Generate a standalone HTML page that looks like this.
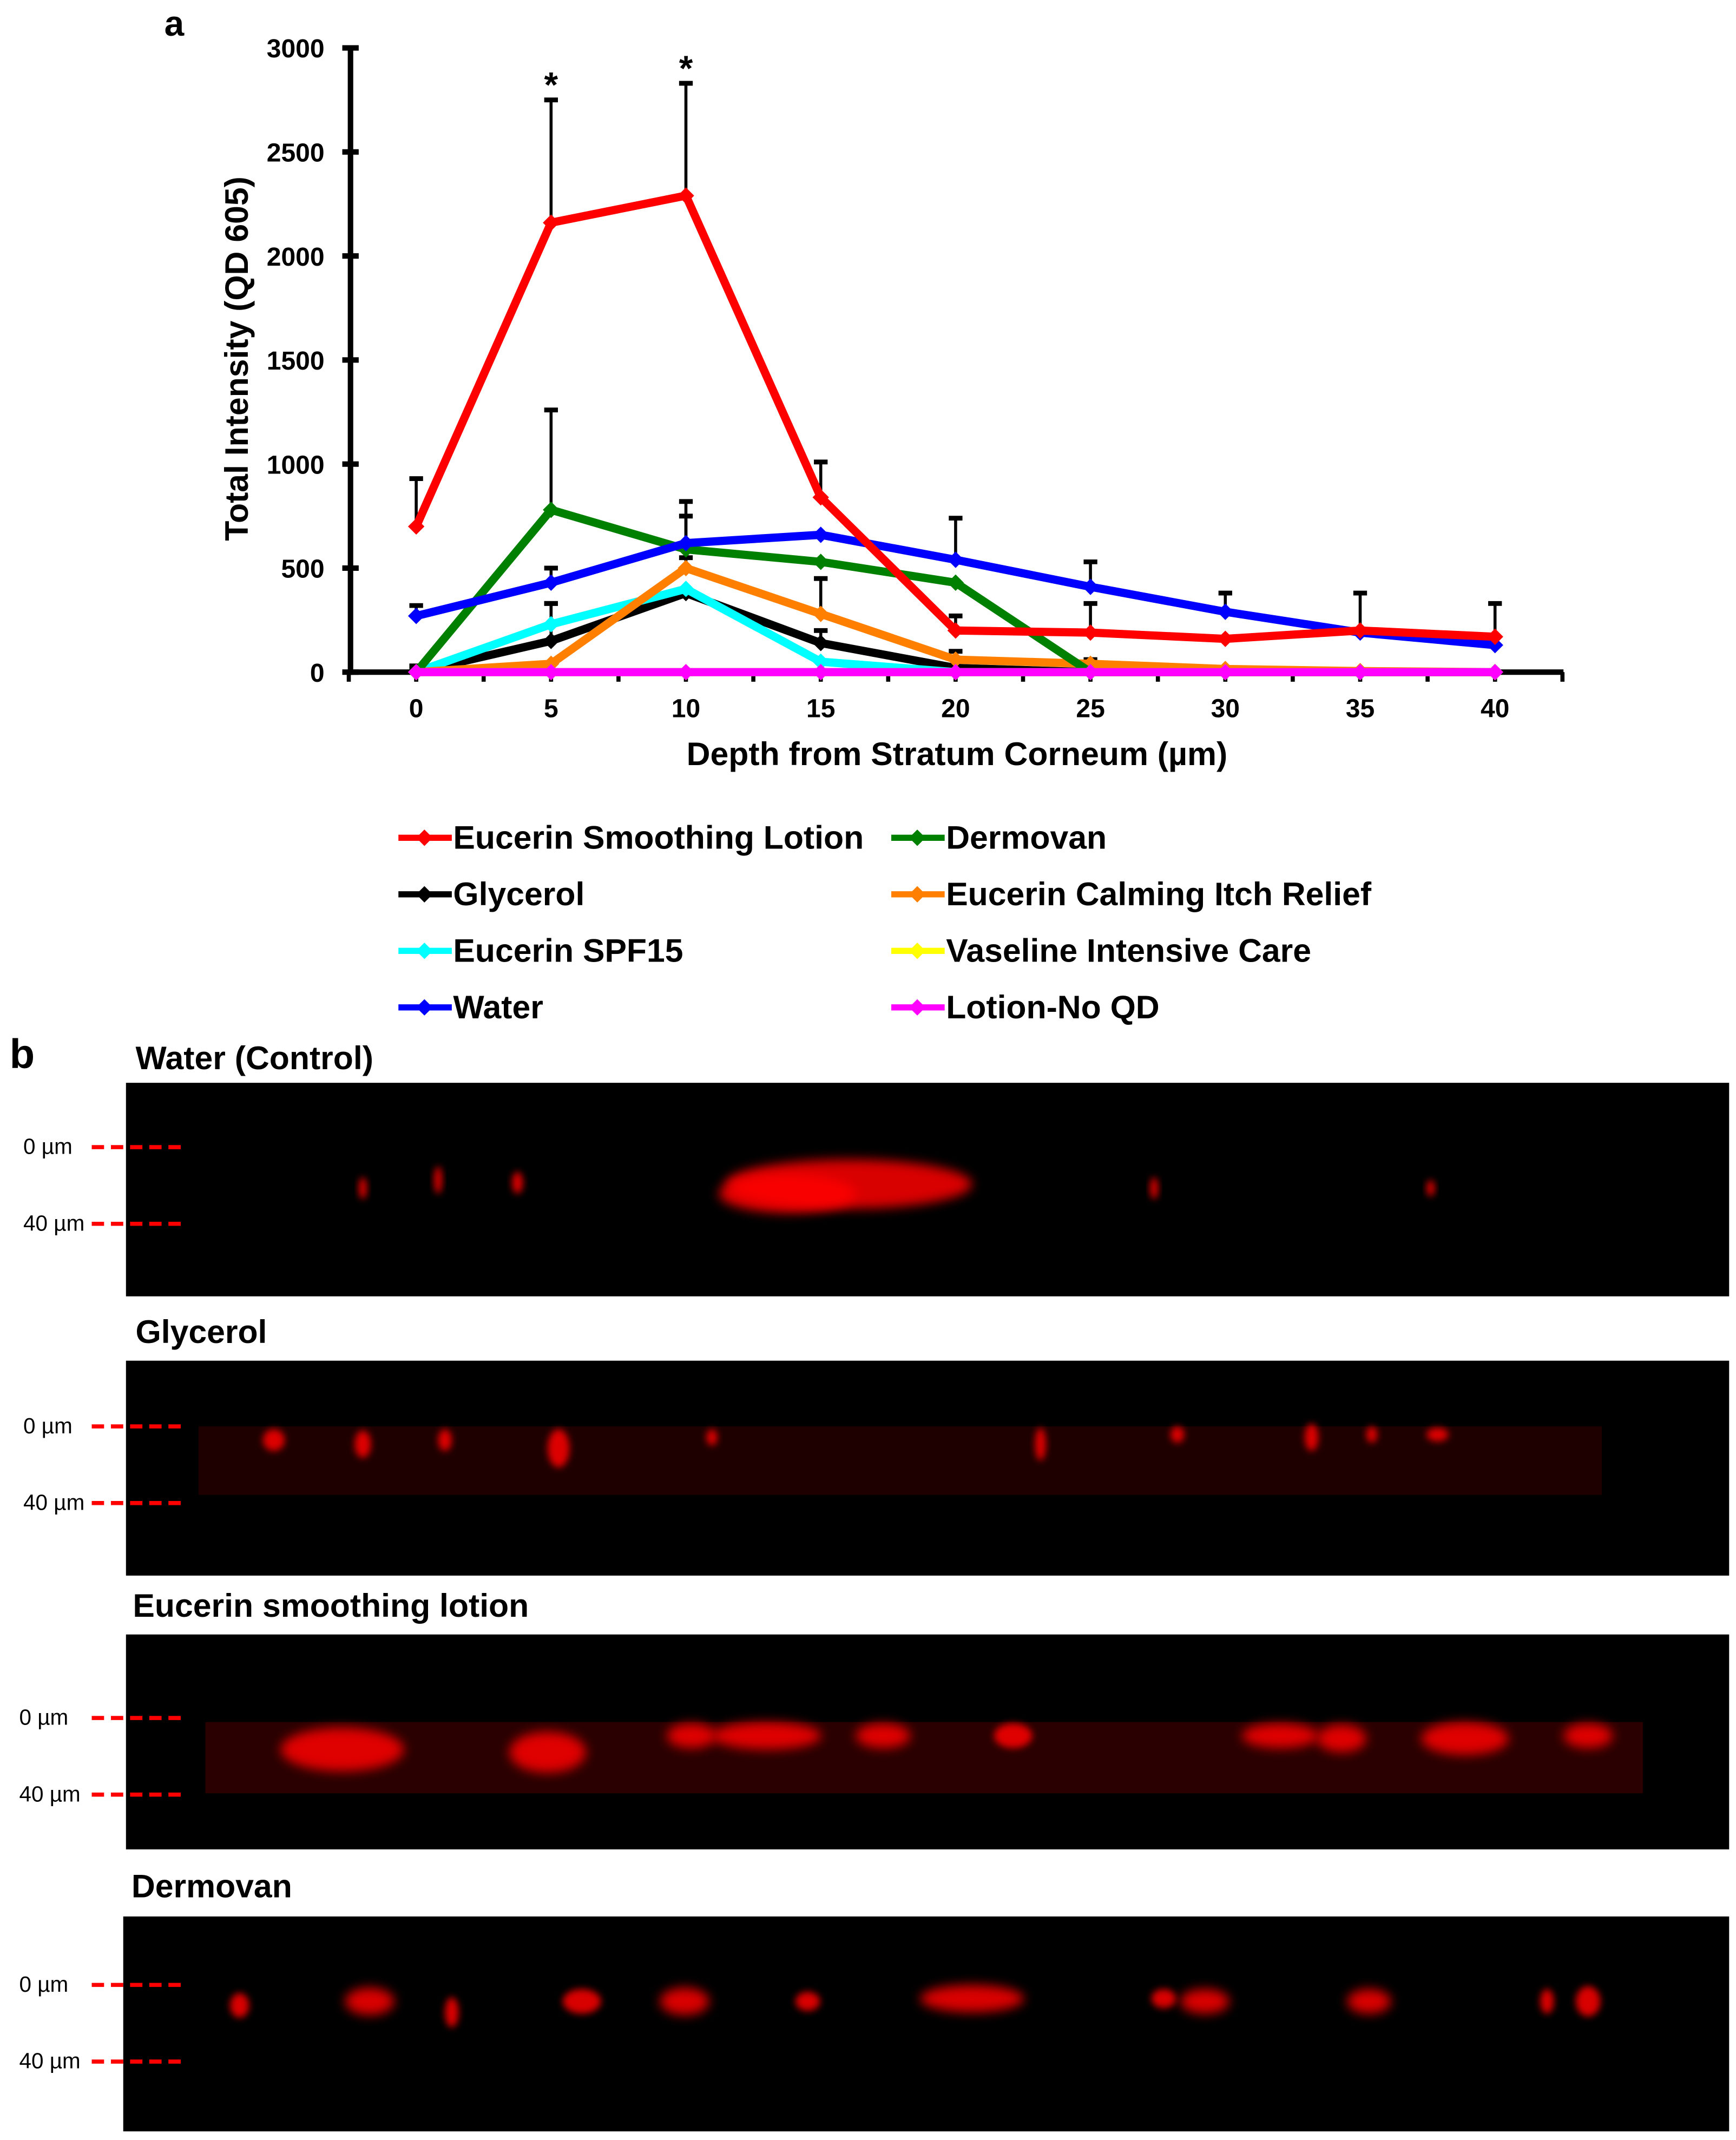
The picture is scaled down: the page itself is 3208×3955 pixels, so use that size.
<!DOCTYPE html>
<html><head><meta charset="utf-8">
<style>html,body{margin:0;padding:0;background:#fff;}svg{display:block;font-family:"Liberation Sans",Arial,sans-serif;}</style>
</head><body>
<svg id="fig" width="3208" height="3955" viewBox="0 0 1268 1563.3" xmlns="http://www.w3.org/2000/svg">
<defs>
<filter id="blur" x="-50%" y="-50%" width="200%" height="200%"><feGaussianBlur stdDeviation="4"/></filter>
<filter id="blur2" x="-50%" y="-50%" width="200%" height="200%"><feGaussianBlur stdDeviation="2.5"/></filter>
</defs>
<text x="120" y="26" font-size="26" font-weight="bold">a</text>
<g id="chart"></g>
<g id="legend"></g>
<g id="panelb"></g>
</svg>
<script>
const depths=[0,5,10,15,20,25,30,35,40];
const yTicks=[0,500,1000,1500,2000,2500,3000];
const seriesNames=["Eucerin Smoothing Lotion","Dermovan","Glycerol","Eucerin Calming Itch Relief","Eucerin SPF15","Vaseline Intensive Care","Water","Lotion-No QD"];
const redVals=[700,2160,2290,840,200,190,160,200,170];
const redErr=[230,590,540,170,70,140,0,0,160];
const greenVals=[0,780,590,530,430,0,0,0,0];
const greenErr=[0,480,160,0,0,0,0,0,0];
const blackVals=[0,150,380,140,20,0,0,0,0];
const blackErr=[20,180,0,60,0,0,0,0,0];
const orangeVals=[0,40,500,280,60,40,15,5,0];
const orangeErr=[0,0,50,170,40,20,0,0,0];
const cyanVals=[0,230,400,50,0,0,0,0,0];
const cyanErr=[30,100,0,0,0,0,0,0,0];
const yellowVals=[0,0,0,0,0,0,0,0,0];
const blueVals=[270,430,620,660,540,410,290,190,130];
const blueErr=[50,70,200,0,200,120,90,190,0];
const magentaVals=[0,0,0,0,0,0,0,0,0];
const sigLabels=["","*","*","","","","","",""];
const NS="http://www.w3.org/2000/svg";
function mk(tag,attrs,parent,txt){const e=document.createElementNS(NS,tag);for(const k in attrs)e.setAttribute(k,attrs[k]);if(txt!==undefined)e.textContent=txt;parent.appendChild(e);return e;}
const xs=d=>304+d*(1092-304)/40;
const ys=v=>491-v*(456/3000);
const chart=document.getElementById('chart');
let ax=mk('line',{x1:256,y1:ys(0),x2:1142,y2:ys(0),stroke:'#000','stroke-width':4},chart);


let ay=mk('line',{x1:256,y1:ys(0)+2,x2:256,y2:ys(3000)-2,stroke:'#000','stroke-width':4},chart);


yTicks.forEach(v=>{
  let t=mk('line',{x1:250,y1:ys(v),x2:262,y2:ys(v),stroke:'#000','stroke-width':4},chart);
  
  
  let l=mk('text',{x:237,y:ys(v)+7,'font-size':19,'font-weight':'bold','text-anchor':'end'},chart,String(v));
  
  
});
for(let d=-2.5;d<=42.5;d+=2.5){
  let t=mk('line',{x1:xs(d),y1:ys(0),x2:xs(d),y2:ys(0)+7,stroke:'#000','stroke-width':3},chart);
  
  
}
depths.forEach(d=>{
  let l=mk('text',{x:xs(d),y:524,'font-size':19,'font-weight':'bold','text-anchor':'middle'},chart,String(d));
  
  
});
let xt=mk('text',{x:699,y:559,'font-size':24,'font-weight':'bold','text-anchor':'middle'},chart,'Depth from Stratum Corneum (µm)');


let yt=mk('text',{x:0,y:0,'font-size':24,'font-weight':'bold','text-anchor':'middle',transform:'translate(181,262) rotate(-90)'},chart,'Total Intensity (QD 605)');


const series=[
 {n:'water',c:'#0000ff',v:blueVals,e:blueErr},
 {n:'eucerin-smoothing',c:'#ff0000',v:redVals,e:redErr},
 {n:'dermovan',c:'#008000',v:greenVals,e:greenErr},
 {n:'glycerol',c:'#000000',v:blackVals,e:blackErr},
 {n:'eucerin-calming',c:'#ff8000',v:orangeVals,e:orangeErr},
 {n:'eucerin-spf15',c:'#00ffff',v:cyanVals,e:cyanErr},
 {n:'vaseline',c:'#ffff00',v:yellowVals,e:yellowVals},
 {n:'lotion-no-qd',c:'#ff00ff',v:magentaVals,e:magentaVals}];
series.forEach(s=>{s.v.forEach((v,i)=>{if(s.e[i]>0){
  let g=mk('g',{},chart);
  
  
  mk('line',{x1:xs(depths[i]),y1:ys(v),x2:xs(depths[i]),y2:ys(v+s.e[i]),stroke:'#000','stroke-width':2.2},g);
  mk('line',{x1:xs(depths[i])-5,y1:ys(v+s.e[i]),x2:xs(depths[i])+5,y2:ys(v+s.e[i]),stroke:'#000','stroke-width':3.5},g);
}});});
const drawOrder=[series[3],series[5],series[4],series[2],series[0],series[1],series[6],series[7]];
drawOrder.forEach(s=>{
  let pts=s.v.map((v,i)=>xs(depths[i])+','+ys(v)).join(' ');
  let p=mk('polyline',{points:pts,fill:'none',stroke:s.c,'stroke-width':6,'stroke-linejoin':'round'},chart);
  
  
  s.v.forEach((v,i)=>{
    const x=xs(depths[i]),y=ys(v);
    let m=mk('polygon',{points:`${x},${y-6} ${x+6},${y} ${x},${y+6} ${x-6},${y}`,fill:s.c},chart);
    
    
  });
});
sigLabels.forEach((t,i)=>{if(t){
  const top=redVals[i]+redErr[i];
  let l=mk('text',{x:xs(depths[i]),y:ys(top)-2,'font-size':26,'font-weight':'bold','text-anchor':'middle'},chart,t);
  
  
}});
const legCols=['#ff0000','#008000','#000000','#ff8000','#00ffff','#ffff00','#0000ff','#ff00ff'];
const leg=document.getElementById('legend');
seriesNames.forEach((n,i)=>{
  const col=i%2,row=Math.floor(i/2);
  const x0=col?651:291,y=612+row*41.3;
  let g=mk('g',{},leg);
  
  
  mk('line',{x1:x0,y1:y,x2:x0+39,y2:y,stroke:legCols[i],'stroke-width':4.5},g);
  mk('polygon',{points:`${x0+19},${y-6} ${x0+25},${y} ${x0+19},${y+6} ${x0+13},${y}`,fill:legCols[i]},g);
  mk('text',{x:x0+40,y:y+8,'font-size':24,'font-weight':'bold'},g,n);
});
const pb=document.getElementById('panelb');
let bl=mk('text',{x:7,y:780,'font-size':30,'font-weight':'bold'},pb,'b');


const panels=[
 {t:'Water (Control)',ty:781,tx:99,x:92,y:791,w:1171,h:156,d0:838,d40:894,lx:17},
 {t:'Glycerol',ty:981,tx:99,x:92,y:994,w:1171,h:157,d0:1042,d40:1098,lx:17,band:[145,1042,1025,50,'#1e0000']},
 {t:'Eucerin smoothing lotion',ty:1181,tx:97,x:92,y:1194,w:1171,h:157,d0:1255,d40:1311,lx:14,band:[150,1258,1050,52,'#2a0000']},
 {t:'Dermovan',ty:1386,tx:96,x:90,y:1400,w:1173,h:157,d0:1450,d40:1506,lx:14}];
const blobs=[
 [[265,868,3,8],[320,862,3,10],[378,864,4,8],[620,865,90,18],[575,872,50,14],[843,868,3,8],[1045,868,3,6]],
 [[200,1052,8,8],[265,1055,6,10],[325,1052,5,8],[408,1058,8,14],[520,1050,4,6],[760,1055,4,12],[860,1048,5,6],[958,1050,5,10],[1002,1048,4,6],[1050,1048,8,5]],
 [[250,1278,45,16],[400,1280,28,15],[560,1268,40,10],[645,1268,20,9],[935,1268,28,9],[1070,1270,32,12],[1160,1268,18,9],[505,1268,18,9],[740,1268,14,9],[980,1270,18,10]],
 [[175,1465,7,9],[270,1462,18,10],[330,1470,5,11],[425,1462,14,9],[500,1462,18,10],[590,1462,9,7],[710,1460,38,10],[850,1460,9,7],[880,1462,18,9],[1000,1462,16,9],[1130,1462,5,9],[1160,1462,9,11]]];
panels.forEach((p,k)=>{
  let g=mk('g',{},pb);
  
  
  mk('text',{x:p.tx,y:p.ty,'font-size':24,'font-weight':'bold'},g,p.t);
  mk('rect',{x:p.x,y:p.y,width:p.w,height:p.h,fill:'#000'},g);
  if(p.band)mk('rect',{x:p.band[0],y:p.band[1],width:p.band[2],height:p.band[3],fill:p.band[4]},g);
  blobs[k].forEach(b=>mk('ellipse',{cx:b[0],cy:b[1],rx:b[2],ry:b[3],fill:'#ff0000',opacity:0.85,filter:b[2]>15?'url(#blur)':'url(#blur2)'},g));
  [[p.d0,'0 µm'],[p.d40,'40 µm']].forEach(([y,l])=>{
    mk('line',{x1:67,y1:y,x2:134,y2:y,stroke:'#ff0000','stroke-width':3,'stroke-dasharray':'9,5'},g);
    mk('text',{x:p.lx,y:y+5,'font-size':16},g,l);
  });
});
</script>
</body></html>
